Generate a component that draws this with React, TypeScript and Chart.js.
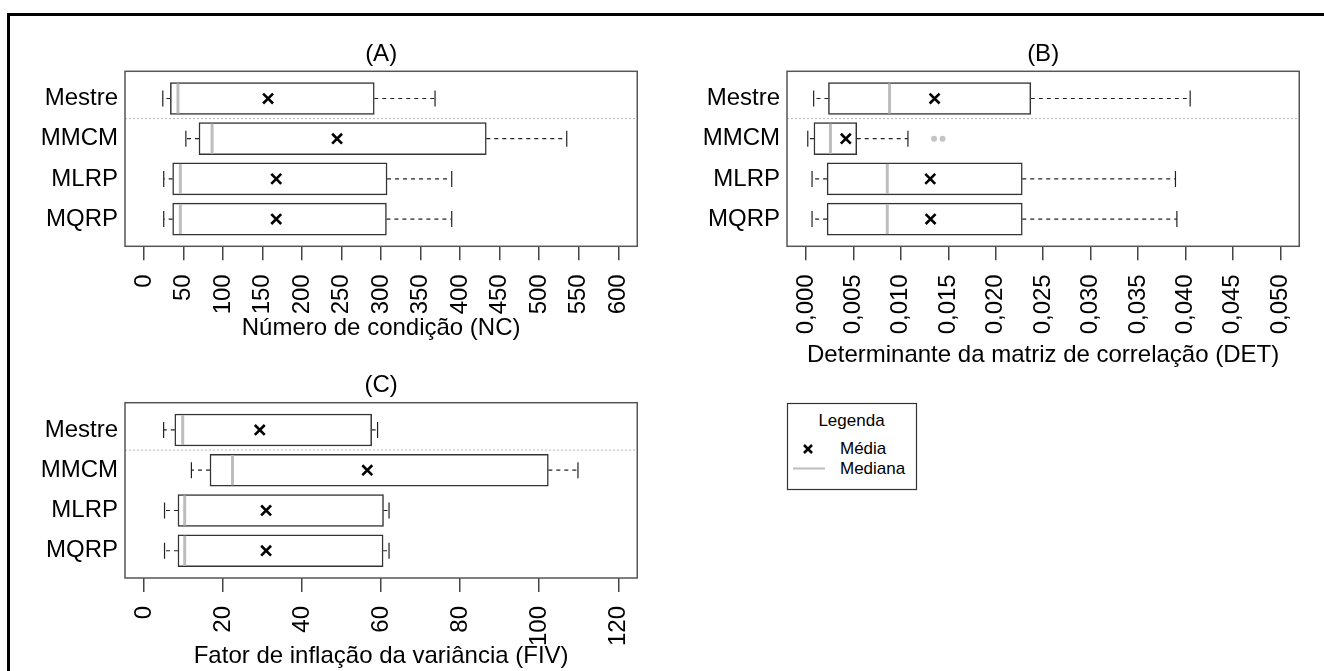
import React, { useEffect, useRef } from 'react';
import { Chart, registerables } from 'chart.js';

Chart.register(...registerables);

// ---------- data ----------
const categories = ['Mestre', 'MMCM', 'MLRP', 'MQRP'];

// (A) Número de condição (NC)
const ncMin = [23.8, 53, 25, 25];
const ncQ1 = [33.4, 69.6, 36.3, 36.3];
const ncMedian = [43, 86.2, 46, 46];
const ncQ3 = [291.3, 433, 307.5, 306.7];
const ncMax = [368.2, 534.8, 389.3, 389.3];
const ncMean = [157, 244.3, 167.3, 167.3];
const ncTicks = [0, 50, 100, 150, 200, 250, 300, 350, 400, 450, 500, 550, 600];
const ncTickLabels = ['0', '50', '100', '150', '200', '250', '300', '350', '400', '450', '500', '550', '600'];

// (B) Determinante da matriz de correlação (DET)
const detMin = [0.00081, 0.00019, 0.00064, 0.00064];
const detQ1 = [0.00237, 0.00084, 0.00223, 0.00223];
const detMedian = [0.00881, 0.00258, 0.00857, 0.00857];
const detQ3 = [0.0237, 0.00535, 0.0228, 0.0228];
const detMax = [0.0405, 0.01075, 0.03895, 0.0391];
const detMean = [0.01356, 0.0042, 0.0131, 0.01314];
const detOutlierValues = [0.0135, 0.0144];
const detOutlierCategory = ['MMCM', 'MMCM'];
const detTicks = [0, 0.005, 0.01, 0.015, 0.02, 0.025, 0.03, 0.035, 0.04, 0.045, 0.05];
const detTickLabels = ['0,000', '0,005', '0,010', '0,015', '0,020', '0,025', '0,030', '0,035', '0,040', '0,045', '0,050'];

// (C) Fator de inflação da variância (FIV)
const fivMin = [4.97, 12, 5.2, 5.2];
const fivQ1 = [7.8, 16.7, 8.6, 8.6];
const fivMedian = [9.8, 22.4, 10.3, 10.3];
const fivQ3 = [57.6, 102.3, 60.6, 60.5];
const fivMax = [59.1, 109.8, 62, 62];
const fivMean = [29.3, 56.5, 30.9, 30.9];
const fivTicks = [0, 20, 40, 60, 80, 100, 120];
const fivTickLabels = ['0', '20', '40', '60', '80', '100', '120'];

// ---------- styling ----------
const FONT = '"Liberation Sans", Arial, Helvetica, sans-serif';
const FS = 24;

type Spec = {
  title: string;
  axisTitle: string;
  min: number[]; q1: number[]; median: number[]; q3: number[]; max: number[]; mean: number[];
  outVals: number[]; outCats: string[];
  ticks: number[]; tickLabels: string[];
  xMin: number; xMax: number;
  left: number; top: number; width: number; height: number;
  padRight: number; yAxisWidth: number; xAxisHeight: number;
  titlePadTop: number; titlePadBottom: number; axisTitlePadBottom: number;
};

const boxExtras = {
  id: 'boxExtras',
  beforeDatasetsDraw(chart: any, _args: any, opts: any) {
    const { ctx, chartArea, scales } = chart;
    const xs = scales.x, ys = scales.y;
    // dotted separator between "Mestre" and the others
    const sy = ys.getPixelForValue(1.5);
    ctx.save();
    ctx.strokeStyle = '#b8b8b8';
    ctx.lineWidth = 1;
    ctx.setLineDash([2, 2]);
    ctx.beginPath();
    ctx.moveTo(chartArea.left, sy);
    ctx.lineTo(chartArea.right, sy);
    ctx.stroke();
    ctx.restore();
    // whiskers + staples
    ctx.save();
    ctx.strokeStyle = '#222';
    ctx.lineWidth = 1.2;
    opts.min.forEach((mn: number, i: number) => {
      const y = ys.getPixelForValue(i + 1);
      const pMin = xs.getPixelForValue(mn);
      const pQ1 = xs.getPixelForValue(opts.q1[i]);
      const pQ3 = xs.getPixelForValue(opts.q3[i]);
      const pMax = xs.getPixelForValue(opts.max[i]);
      ctx.setLineDash([4, 4]);
      ctx.beginPath();
      ctx.moveTo(pQ1, y); ctx.lineTo(pMin, y);
      ctx.moveTo(pQ3, y); ctx.lineTo(pMax, y);
      ctx.stroke();
      ctx.setLineDash([]);
      ctx.beginPath();
      ctx.moveTo(pMin, y - 8); ctx.lineTo(pMin, y + 8);
      ctx.moveTo(pMax, y - 8); ctx.lineTo(pMax, y + 8);
      ctx.stroke();
    });
    ctx.restore();
  },
  afterDatasetDraw(chart: any, args: any, opts: any) {
    if (args.meta.type !== 'bar') return;
    const { ctx, scales } = chart;
    const xs = scales.x, ys = scales.y;
    ctx.save();
    ctx.strokeStyle = '#bdbdbd';
    ctx.lineWidth = 3;
    opts.median.forEach((md: number, i: number) => {
      const y = ys.getPixelForValue(i + 1);
      const x = xs.getPixelForValue(md);
      ctx.beginPath();
      ctx.moveTo(x, y - 15);
      ctx.lineTo(x, y + 15);
      ctx.stroke();
    });
    ctx.restore();
  },
  afterDraw(chart: any) {
    const { ctx, chartArea } = chart;
    ctx.save();
    ctx.strokeStyle = '#555';
    ctx.lineWidth = 1.5;
    ctx.strokeRect(chartArea.left, chartArea.top, chartArea.right - chartArea.left, chartArea.bottom - chartArea.top);
    ctx.restore();
  },
};

function Panel({ spec }: { spec: Spec }) {
  const ref = useRef<HTMLCanvasElement | null>(null);
  useEffect(() => {
    if (!ref.current) return;
    const s = spec;
    const chart = new Chart(ref.current, {
      type: 'bar',
      data: {
        datasets: [
          {
            type: 'scatter',
            label: 'Média',
            data: s.mean.map((m, i) => ({ x: m, y: i + 1 })),
            pointStyle: 'crossRot',
            pointRadius: 7,
            pointBorderWidth: 2.6,
            borderColor: '#000',
            backgroundColor: '#000',
            order: 0,
          } as any,
          {
            type: 'scatter',
            label: 'Outliers',
            data: s.outVals.map((v, i) => ({ x: v, y: categories.indexOf(s.outCats[i]) + 1 })),
            pointStyle: 'circle',
            pointRadius: 3,
            borderWidth: 0,
            backgroundColor: '#c4c4c4',
            borderColor: '#c4c4c4',
            order: 1,
          } as any,
          {
            type: 'bar',
            label: 'Caixa',
            indexAxis: 'y',
            data: s.q1.map((v, i) => ({ x: [v, s.q3[i]], y: i + 1 })),
            backgroundColor: '#ffffff',
            borderColor: '#333',
            borderWidth: 1.5,
            borderSkipped: false,
            barThickness: 32,
            order: 2,
          } as any,
        ],
      },
      options: {
        responsive: false,
        animation: false,
        devicePixelRatio: 1,
        events: [],
        layout: { padding: { left: 0, right: s.padRight, top: 0, bottom: 0 } },
        scales: {
          x: {
            type: 'linear',
            position: 'bottom',
            offset: false,
            min: s.xMin,
            max: s.xMax,
            bounds: 'data',
            afterBuildTicks: (sc: any) => { sc.ticks = s.ticks.map((v) => ({ value: v })); },
            afterFit: (sc: any) => { sc.height = s.xAxisHeight; },
            ticks: {
              autoSkip: false,
              minRotation: 90,
              maxRotation: 90,
              padding: 14,
              color: '#000',
              font: { size: FS, family: FONT },
              callback: (_v: any, i: number) => s.tickLabels[i],
            },
            grid: { display: true, offset: false, drawOnChartArea: false, drawTicks: true, tickLength: 14, color: '#444', lineWidth: 1.5 },
            border: { display: false },
            title: {
              display: true,
              text: s.axisTitle,
              color: '#000',
              font: { size: FS, family: FONT },
              padding: { top: 0, bottom: s.axisTitlePadBottom },
            },
          },
          y: {
            type: 'linear',
            position: 'left',
            offset: false,
            min: 0.323,
            max: 4.677,
            reverse: true,
            bounds: 'data',
            afterBuildTicks: (sc: any) => { sc.ticks = categories.map((_c, i) => ({ value: i + 1 })); },
            afterFit: (sc: any) => { sc.width = s.yAxisWidth; },
            ticks: {
              autoSkip: false,
              padding: 7,
              color: '#000',
              font: { size: FS, family: FONT },
              callback: (v: any) => categories[Math.round(Number(v)) - 1],
            },
            grid: { display: false, offset: false, drawTicks: false, tickLength: 0 },
            border: { display: false },
          },
        } as any,
        plugins: {
          legend: { display: false },
          tooltip: { enabled: false },
          title: {
            display: true,
            text: s.title,
            color: '#000',
            fullSize: false,
            font: { size: FS, family: FONT, weight: 'normal' },
            padding: { top: s.titlePadTop, bottom: s.titlePadBottom },
          },
          boxExtras: { min: s.min, q1: s.q1, q3: s.q3, max: s.max, median: s.median },
        } as any,
      },
      plugins: [boxExtras as any],
    });
    return () => chart.destroy();
  }, [spec]);
  return (
    <canvas
      ref={ref}
      width={spec.width}
      height={spec.height}
      style={{ position: 'absolute', left: spec.left, top: spec.top, width: spec.width, height: spec.height }}
    />
  );
}

const specA: Spec = {
  title: '(A)', axisTitle: 'Número de condição (NC)',
  min: ncMin, q1: ncQ1, median: ncMedian, q3: ncQ3, max: ncMax, mean: ncMean,
  outVals: [], outCats: [],
  ticks: ncTicks, tickLabels: ncTickLabels, xMin: -24, xMax: 624,
  left: 0, top: 0, width: 662, height: 345,
  padRight: 17.5, yAxisWidth: 125, xAxisHeight: 98.7,
  titlePadTop: 40, titlePadBottom: 2.5, axisTitlePadBottom: 1.9,
};

const specB: Spec = {
  title: '(B)', axisTitle: 'Determinante da matriz de correlação (DET)',
  min: detMin, q1: detQ1, median: detMedian, q3: detQ3, max: detMax, mean: detMean,
  outVals: detOutlierValues, outCats: detOutlierCategory,
  ticks: detTicks, tickLabels: detTickLabels, xMin: -0.002, xMax: 0.052,
  left: 662, top: 0, width: 662, height: 372,
  padRight: 17.3, yAxisWidth: 125, xAxisHeight: 125.7,
  titlePadTop: 40, titlePadBottom: 2.5, axisTitlePadBottom: 2.6,
};

const specC: Spec = {
  title: '(C)', axisTitle: 'Fator de inflação da variância (FIV)',
  min: fivMin, q1: fivQ1, median: fivMedian, q3: fivQ3, max: fivMax, mean: fivMean,
  outVals: [], outCats: [],
  ticks: fivTicks, tickLabels: fivTickLabels, xMin: -4.8, xMax: 124.8,
  left: 0, top: 340, width: 662, height: 335,
  padRight: 18, yAxisWidth: 125, xAxisHeight: 97,
  titlePadTop: 31.3, titlePadBottom: 2.6, axisTitlePadBottom: 3.9,
};

function LegendBox() {
  return (
    <svg
      width={145}
      height={100}
      style={{ position: 'absolute', left: 780, top: 395, overflow: 'visible' }}
    >
      <rect x={7.5} y={8.5} width={129} height={86} fill="#fff" stroke="#333" strokeWidth={1.2} />
      <text x={71.5} y={31} textAnchor="middle" fontFamily={FONT} fontSize={17} fill="#000">Legenda</text>
      <line x1={24} y1={50} x2={32} y2={58} stroke="#000" strokeWidth={2.5} />
      <line x1={32} y1={50} x2={24} y2={58} stroke="#000" strokeWidth={2.5} />
      <text x={60} y={59} fontFamily={FONT} fontSize={17} fill="#000">Média</text>
      <line x1={13} y1={73.5} x2={45} y2={73.5} stroke="#bdbdbd" strokeWidth={2} />
      <text x={60} y={79.3} fontFamily={FONT} fontSize={17} fill="#000">Mediana</text>
    </svg>
  );
}

export default function App() {
  return (
    <div style={{ position: 'absolute', left: 0, top: 0, width: 1324, height: 671, overflow: 'hidden', background: '#fff' }}>
      <div
        style={{
          position: 'absolute', left: 7, top: 13, width: 2000, height: 2000,
          borderTop: '3px solid #000', borderLeft: '3px solid #000', boxSizing: 'border-box',
        }}
      />
      <Panel spec={specA} />
      <Panel spec={specB} />
      <Panel spec={specC} />
      <LegendBox />
    </div>
  );
}
